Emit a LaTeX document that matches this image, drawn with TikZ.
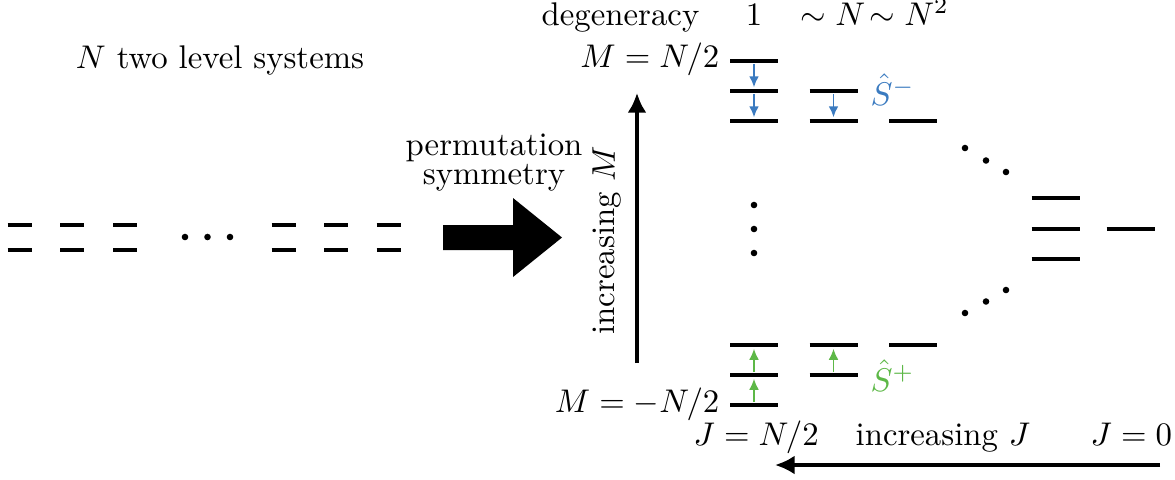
\documentclass[tikz,border=0pt]{standalone}
\usetikzlibrary{arrows.meta,calc}
\definecolor{sblue}{RGB}{59,123,192}
\definecolor{sgreen}{RGB}{93,184,71}
\tikzset{
  lvl/.style={line width=1.25pt},
  dashlvl/.style={line width=1.3pt},
  bigarrow/.style={line width=1.1pt,-{Latex[length=6pt,width=5.8pt]}},
  opdown/.style={sblue,line width=0.6pt,-{Latex[length=3.4pt,width=3pt]},shorten <=1pt,shorten >=1.1pt},
  opup/.style={sgreen,line width=0.6pt,-{Latex[length=3.4pt,width=3pt]},shorten <=1pt,shorten >=1.1pt},
  dot/.style={circle,fill,inner sep=0pt,minimum size=2pt},
  lbl/.style={inner sep=0pt}
}
\newcommand\lvlline[1]{\draw[lvl] ($(#1)+(-24,0)$) -- ($(#1)+(24,0)$);}
\begin{document}
\begin{tikzpicture}[x=0.305pt,y=-0.305pt]
\useasboundingbox (0,0) rectangle (1175,479);
% title
\node[lbl] (title) at (220,60) {$N$ two level systems};
% left two-level systems
\foreach \x [count=\i] in {19.5,72,125,283.5,336,388.5}{
  \coordinate (u\i) at (\x,225);
  \coordinate (d\i) at (\x,250);
  \draw[dashlvl] ($(u\i)+(-12,0)$) -- ($(u\i)+(12,0)$);
  \draw[dashlvl] ($(d\i)+(-12,0)$) -- ($(d\i)+(12,0)$);
}
\foreach \x [count=\i] in {185,207.5,230}{
  \node[dot] (ld\i) at (\x,237) {};
}
% fat arrow
\fill (443,225) -- (513,225) -- (513,198) -- (562,237.5) -- (513,277) -- (513,250) -- (443,250) -- cycle;
\node[lbl] (perm) at (494,155) [anchor=base] {permutation};
\node[lbl] (sym) at (494,184) [anchor=base] {symmetry};
% header
\node[lbl,anchor=base east] (deg) at (700,25) {degeneracy};
\node[lbl,anchor=base] (one) at (754,25) {$1$};
\node[lbl,anchor=base west] (simN) at (800,25) {$\sim N$};
\node[lbl,anchor=base west] (simN2) at (869,25) {$\sim N^2$};
% M labels
\node[lbl,anchor=base east] (Mtop) at (720,67) {$M=N/2$};
\node[lbl,anchor=base east] (Mbot) at (720,412) {$M=-N/2$};
% increasing M arrow
\coordinate (mA) at (637,363);
\coordinate (mB) at (637,93);
\draw[bigarrow] (mA) -- (mB);
\node[lbl,rotate=90] (incM) at (607,240) {increasing $M$};
% levels
\coordinate (a1) at (754,61);
\coordinate (a2) at (754,91);
\coordinate (a3) at (754,121);
\coordinate (a4) at (754,345);
\coordinate (a5) at (754,375);
\coordinate (a6) at (754,405);
\coordinate (b2) at (833.5,91);
\coordinate (b3) at (833.5,121);
\coordinate (b4) at (833.5,345);
\coordinate (b5) at (833.5,375);
\coordinate (c3) at (913,121);
\coordinate (c4) at (913,345);
\coordinate (e1) at (1055.5,198);
\coordinate (e2) at (1055.5,229);
\coordinate (e3) at (1055.5,259);
\coordinate (f2) at (1130.5,229);
\foreach \n in {a1,a2,a3,a4,a5,a6,b2,b3,b4,b5,c3,c4,e1,e2,e3,f2}{\lvlline{\n}}
% operators
\draw[opdown] (a1) -- (a2);
\draw[opdown] (a2) -- (a3);
\draw[opdown] (b2) -- (b3);
\draw[opup] (a6) -- (a5);
\draw[opup] (a5) -- (a4);
\draw[opup] (b5) -- (b4);
\node[lbl,anchor=base west,text=sblue] (Sm) at (870,105) {$\hat{S}^{-}$};
\node[lbl,anchor=base west,text=sgreen] (Sp) at (870,391) {$\hat{S}^{+}$};
% dots
\foreach \y [count=\i] in {205,229,253}{\node[dot] (vd\i) at (754,\y) {};}
\node[dot] (ud1) at (965,148) {};
\node[dot] (ud2) at (986,160.5) {};
\node[dot] (ud3) at (1006,172) {};
\node[dot] (bd1) at (1006,290) {};
\node[dot] (bd2) at (986,301.5) {};
\node[dot] (bd3) at (965,313) {};
% J labels and arrow
\node[lbl,anchor=base west] (Jhalf) at (693,445) {$J=N/2$};
\node[lbl,anchor=base west] (incJ) at (855,445) {increasing $J$};
\node[lbl,anchor=base west] (J0) at (1090,445) {$J=0$};
\coordinate (jA) at (1160,465);
\coordinate (jB) at (775,465);
\draw[bigarrow] (jA) -- (jB);
\end{tikzpicture}
\end{document}
